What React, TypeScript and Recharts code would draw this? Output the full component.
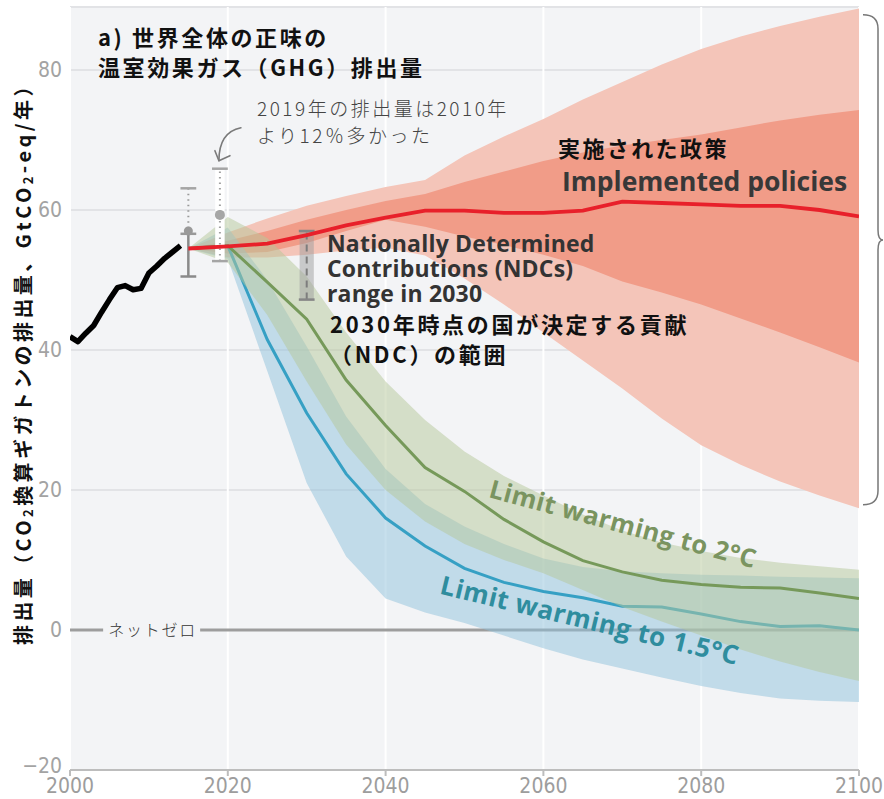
import React from 'react';
import {
  ComposedChart,
  Area,
  Line,
  XAxis,
  YAxis,
  CartesianGrid,
  ReferenceLine,
  ReferenceArea,
  ReferenceDot,
} from 'recharts';

// ---------- data ----------
const histYears = [2000, 2001, 2002, 2003, 2004, 2005, 2006, 2007, 2008, 2009, 2010, 2011, 2012, 2013, 2014];
const histEmissions = [41.9, 41.2, 42.4, 43.5, 45.4, 47.2, 48.9, 49.2, 48.6, 48.8, 51.0, 52.0, 53.1, 54.0, 54.9];

const scenarioYears = [2015, 2020, 2025, 2030, 2035, 2040, 2045, 2050, 2055, 2060, 2065, 2070, 2075, 2080, 2085, 2090, 2095, 2100];

const policyMedian = [54.5, 54.8, 55.2, 56.4, 57.8, 58.9, 59.9, 59.9, 59.6, 59.6, 59.9, 61.2, 61.0, 60.8, 60.6, 60.6, 60.0, 59.1];
const policyHigh95 = [54.5, 56.8, 58.8, 60.6, 62.0, 63.3, 64.3, 67.8, 70.5, 73.0, 75.8, 78.3, 80.8, 83.0, 84.8, 86.3, 87.6, 88.8];
const policyHigh75 = [54.5, 55.6, 57.0, 58.6, 60.0, 61.3, 62.3, 64.0, 65.5, 67.0, 68.2, 69.2, 70.0, 70.8, 71.8, 72.8, 73.6, 74.3];
const policyLow25 = [54.5, 53.8, 54.0, 55.3, 57.0, 58.6, 57.6, 56.2, 55.0, 53.6, 52.0, 49.8, 48.2, 46.5, 44.5, 42.5, 40.4, 38.2];
const policyLow5 = [54.5, 53.2, 53.2, 53.6, 54.2, 54.6, 53.5, 50.2, 46.5, 42.5, 38.5, 34.5, 30.2, 26.4, 23.6, 21.2, 19.2, 17.4];

const twoCMedian = [54.5, 54.9, 49.7, 44.4, 35.7, 29.2, 23.2, 19.8, 15.8, 12.6, 9.9, 8.3, 7.1, 6.5, 6.1, 6.0, 5.3, 4.5];
const twoCHigh = [54.5, 59.0, 56.0, 50.5, 42.5, 35.5, 30.0, 25.5, 22.0, 19.2, 16.5, 14.2, 12.5, 11.3, 10.3, 9.6, 9.1, 8.6];
const twoCLow = [54.5, 52.5, 45.0, 35.5, 26.5, 20.0, 15.5, 12.3, 10.0, 8.1, 5.7, 3.3, 1.2, -0.8, -2.8, -4.5, -6.0, -7.3];

const onePointFiveMedian = [54.5, 54.9, 41.5, 31.0, 22.3, 16.0, 12.0, 8.8, 6.8, 5.5, 4.6, 3.4, 3.3, 2.3, 1.2, 0.5, 0.6, 0.0];
const onePointFiveHigh = [54.5, 57.5, 50.0, 40.5, 30.5, 23.0, 18.0, 14.8, 12.3, 10.2, 9.0, 8.4, 8.1, 7.9, 7.8, 7.6, 7.5, 7.4];
const onePointFiveLow = [54.5, 53.0, 37.0, 21.0, 10.5, 4.5, 2.5, 1.0, -0.8, -2.6, -4.2, -5.5, -6.8, -8.0, -9.0, -9.8, -10.1, -10.3];

// uncertainty bars for 2015 and 2019 emissions
const barYears = [2015, 2019];
const barLow = [50.5, 52.7];
const barHigh = [63.1, 65.9];
const barDot = [57.0, 59.3];
const bar2015SolidTop = 56.6;

// NDC range in 2030
const ndcYear = 2030;
const ndcLow = 47.2;
const ndcHigh = 57.0;

const xTicks = [2000, 2020, 2040, 2060, 2080, 2100];
const yTicks = [-20, 0, 20, 40, 60, 80];

const titleLines = ['a) 世界全体の正味の', '温室効果ガス（GHG）排出量'];
const noteLines = ['2019年の排出量は2010年', 'より12％多かった'];
const policyJa = '実施された政策';
const policyEn = 'Implemented policies';
const ndcEnLines = ['Nationally Determined', 'Contributions (NDCs)', 'range in 2030'];
const ndcJaLines = ['2030年時点の国が決定する貢献', '（NDC）の範囲'];
const twoCLabel = 'Limit warming to 2°C';
const onePointFiveLabel = 'Limit warming to 1.5°C';
const netZeroLabel = 'ネットゼロ';

const table: any[] = [
  ...histYears.map((year, i) => ({ year, hist: histEmissions[i] })),
  ...scenarioYears.map((year, i) => ({
    year,
    policy: policyMedian[i],
    policyOuter: [policyLow5[i], policyHigh95[i]],
    policyInner: [policyLow25[i], policyHigh75[i]],
    twoC: twoCMedian[i],
    twoCRange: [twoCLow[i], twoCHigh[i]],
    onePointFive: onePointFiveMedian[i],
    onePointFiveRange: [onePointFiveLow[i], onePointFiveHigh[i]],
  })),
];

// ---------- styles ----------
const JP = "'Noto Sans CJK JP', 'Noto Sans', sans-serif";
const EN = "'Open Sans', 'Noto Sans', sans-serif";
const NARROW = "'Liberation Sans Narrow', 'DejaVu Sans Condensed', 'Roboto Condensed', sans-serif";
const BG = '#f3f4f6';

type TextSpec = {
  lines: string[];
  lh?: number;
  size: number;
  weight: number;
  fill: string;
  family: string;
  ls?: number;
  angle?: number;
  anchor?: 'start' | 'middle' | 'end';
};

const textShape = (spec: TextSpec) => (p: any) => {
  const { cx, cy } = p;
  return (
    <text
      x={cx}
      y={cy}
      fontSize={spec.size}
      fontWeight={spec.weight}
      fill={spec.fill}
      fontFamily={spec.family}
      letterSpacing={spec.ls ?? 0}
      textAnchor={spec.anchor ?? 'start'}
      transform={spec.angle ? `rotate(${spec.angle} ${cx} ${cy})` : undefined}
    >
      {spec.lines.map((l, i) => (
        <tspan key={i} x={cx} dy={i === 0 ? 0 : spec.lh ?? 0}>
          {l}
        </tspan>
      ))}
    </text>
  );
};

const YTick = (p: any) => {
  const v = p.payload.value;
  const shift = v === yTicks[0] ? -4 : 0;
  return (
    <text
      x={p.x}
      y={p.y + shift}
      dy="0.355em"
      textAnchor="end"
      fill="#a3a3a3"
      fontSize={21}
      fontFamily={NARROW}
    >
      {v < 0 ? `\u2212${-v}` : `${v}`}
    </text>
  );
};

const yLabelShape = (p: any) => {
  const x = p.cx - 48;
  const y = p.cy;
  return (
    <text
      x={x}
      y={y}
      transform={`rotate(-90 ${x} ${y})`}
      textAnchor="middle"
      dominantBaseline="central"
      fontSize={20}
      fontWeight={700}
      fill="#111"
      fontFamily={JP}
      letterSpacing={3.4}
    >
      <tspan>排出量（CO</tspan>
      <tspan fontSize={13} dy={5}>2</tspan>
      <tspan dy={-5}>換算ギガトンの排出量、GtCO</tspan>
      <tspan fontSize={13} dy={5}>2</tspan>
      <tspan dy={-5}>-eq/年）</tspan>
    </text>
  );
};

const netZeroShape = (p: any) => {
  const { cx, cy } = p;
  return (
    <g>
      <rect x={cx} y={cy - 10} width={97} height={20} fill={BG} />
      <text x={cx + 5} y={cy + 6} fontSize={16} fontWeight={300} fill="#333" fontFamily={JP} letterSpacing={1.8}>
        {netZeroLabel}
      </text>
    </g>
  );
};

const arrowShape = (p: any) => {
  const ax = p.cx;
  const ay = p.cy;
  const tx = ax - 1;
  const ty = ay - 8;
  return (
    <g fill="none" stroke="#7a7a7a" strokeWidth={1.6} strokeLinecap="round" strokeLinejoin="round">
      <path d={`M ${ax + 21} ${ay - 41} C ${ax + 6} ${ay - 38} ${ax - 1} ${ay - 26} ${tx} ${ty}`} />
      <path d={`M ${tx - 4} ${ty - 10} L ${tx} ${ty} L ${tx + 11} ${ty - 5}`} />
    </g>
  );
};

const braceShape = (p: any) => {
  const x = p.x1 + 4;
  const top = Math.min(p.y1, p.y2);
  const bot = Math.max(p.y1, p.y2);
  const mid = top + 0.46 * (bot - top);
  const w = 15;
  return (
    <path
      d={`M ${x} ${top} Q ${x + w} ${top} ${x + w} ${top + 14} L ${x + w} ${mid - 10} Q ${x + w} ${mid} ${x + w + 5} ${mid} Q ${x + w} ${mid} ${x + w} ${mid + 10} L ${x + w} ${bot - 14} Q ${x + w} ${bot} ${x} ${bot}`}
      fill="none"
      stroke="#777"
      strokeWidth={1.5}
    />
  );
};

const dotShape = (fill: string) => (p: any) => <circle cx={p.cx} cy={p.cy} r={p.r} fill={fill} />;

export default function App() {
  return (
    <div style={{ position: 'absolute', left: 0, top: 0, width: 884, height: 799, background: '#ffffff' }}>
      <ComposedChart width={884} height={799} data={table} margin={{ top: 7, right: 25, bottom: 0, left: 30 }}>
        <CartesianGrid horizontal vertical={false} stroke="#e2e3e6" strokeWidth={2} fill={BG} />
        <CartesianGrid horizontal={false} vertical stroke="#ffffff" strokeWidth={2} />
        <XAxis
          dataKey="year"
          type="number"
          domain={[2000, 2100]}
          ticks={xTicks}
          allowDataOverflow
          height={29}
          tickSize={6}
          tickMargin={2}
          tick={{ fill: '#9d9d9d', fontSize: 21, fontFamily: NARROW }}
          tickLine={{ stroke: '#bdbdbd', strokeWidth: 2 }}
          axisLine={{ stroke: '#bdbdbd', strokeWidth: 2 }}
        />
        <YAxis
          type="number"
          domain={[-20, 89]}
          ticks={yTicks}
          allowDataOverflow
          width={40}
          tickSize={6}
          tickMargin={2}
          tick={<YTick />}
          tickLine={false}
          axisLine={false}
        />

        <ReferenceLine y={0} stroke="#9d9d9d" strokeWidth={3} zIndex={50} />

        <Area dataKey="policyOuter" stroke="none" fill="#f4c5b9" fillOpacity={1} isAnimationActive={false} dot={false} activeDot={false} zIndex={100} />
        <Area dataKey="policyInner" stroke="none" fill="#f19c88" fillOpacity={1} isAnimationActive={false} dot={false} activeDot={false} zIndex={101} />
        <Area dataKey="onePointFiveRange" stroke="none" fill="#8fc1db" fillOpacity={0.5} isAnimationActive={false} dot={false} activeDot={false} zIndex={102} />
        <Line dataKey="onePointFive" stroke="#36a0c4" strokeWidth={3} dot={false} activeDot={false} isAnimationActive={false} zIndex={103} />
        <Area dataKey="twoCRange" stroke="none" fill="#b5c79a" fillOpacity={0.5} isAnimationActive={false} dot={false} activeDot={false} zIndex={104} />
        <Line dataKey="twoC" stroke="#76995a" strokeWidth={3} dot={false} activeDot={false} isAnimationActive={false} zIndex={105} />

        {/* 2015 uncertainty bar */}
        <ReferenceLine segment={[{ x: barYears[0], y: bar2015SolidTop }, { x: barYears[0], y: barHigh[0] }]} stroke="#9a9a9a" strokeWidth={2} strokeDasharray="1.5 4" zIndex={106} />
        <ReferenceLine segment={[{ x: barYears[0], y: barLow[0] }, { x: barYears[0], y: bar2015SolidTop }]} stroke="#8a8a8a" strokeWidth={2.5} zIndex={106} />
        <ReferenceLine segment={[{ x: barYears[0] - 1, y: barHigh[0] }, { x: barYears[0] + 1, y: barHigh[0] }]} stroke="#a5a5a5" strokeWidth={2.5} zIndex={106} />
        <ReferenceLine segment={[{ x: barYears[0] - 1, y: bar2015SolidTop }, { x: barYears[0] + 1, y: bar2015SolidTop }]} stroke="#999" strokeWidth={2.5} zIndex={106} />
        <ReferenceLine segment={[{ x: barYears[0] - 1, y: barLow[0] }, { x: barYears[0] + 1, y: barLow[0] }]} stroke="#8a8a8a" strokeWidth={2.5} zIndex={106} />
        <ReferenceDot x={barYears[0]} y={barDot[0]} r={4.5} shape={dotShape('#999')} zIndex={107} />

        {/* 2019 uncertainty bar */}
        <ReferenceArea x1={barYears[1] - 0.6} x2={barYears[1] + 0.6} y1={barLow[1]} y2={barHigh[1]} fill="#ffffff" fillOpacity={1} stroke="none" zIndex={106} />
        <ReferenceLine segment={[{ x: barYears[1], y: barLow[1] }, { x: barYears[1], y: barHigh[1] }]} stroke="#a0a0a0" strokeWidth={2} strokeDasharray="1.5 4" zIndex={107} />
        <ReferenceLine segment={[{ x: barYears[1] - 1, y: barHigh[1] }, { x: barYears[1] + 1, y: barHigh[1] }]} stroke="#a5a5a5" strokeWidth={2.5} zIndex={107} />
        <ReferenceLine segment={[{ x: barYears[1] - 1, y: barLow[1] }, { x: barYears[1] + 1, y: barLow[1] }]} stroke="#a5a5a5" strokeWidth={2.5} zIndex={107} />
        <ReferenceDot x={barYears[1]} y={barDot[1]} r={5} shape={dotShape('#a6a6a6')} zIndex={108} />

        {/* NDC range 2030 */}
        <ReferenceArea x1={ndcYear - 0.9} x2={ndcYear + 0.9} y1={ndcLow} y2={ndcHigh} fill="#9e9e9e" fillOpacity={0.5} stroke="none" zIndex={106} />
        <ReferenceLine segment={[{ x: ndcYear, y: ndcLow }, { x: ndcYear, y: ndcHigh }]} stroke="#7d7d7d" strokeWidth={2} strokeDasharray="7 5" zIndex={107} />
        <ReferenceLine segment={[{ x: ndcYear - 1, y: ndcHigh }, { x: ndcYear + 1, y: ndcHigh }]} stroke="#858585" strokeWidth={2.5} zIndex={107} />
        <ReferenceLine segment={[{ x: ndcYear - 1, y: ndcLow }, { x: ndcYear + 1, y: ndcLow }]} stroke="#858585" strokeWidth={2.5} zIndex={107} />

        <Line dataKey="hist" stroke="#000000" strokeWidth={5.5} strokeLinejoin="round" dot={false} activeDot={false} isAnimationActive={false} zIndex={110} />
        <Line dataKey="policy" stroke="#e8202a" strokeWidth={3.8} dot={false} activeDot={false} isAnimationActive={false} zIndex={111} />

        {/* right brace spanning the implemented policies range in 2100 */}
        <ReferenceLine
          segment={[{ x: 2100, y: policyLow5[policyLow5.length - 1] + 0.5 }, { x: 2100, y: policyHigh95[policyHigh95.length - 1] - 0.9 }]}
          ifOverflow="visible"
          shape={braceShape}
          zIndex={120}
        />

        {/* text annotations */}
        <ReferenceDot x={2000} y={38.7} r={0} ifOverflow="visible" shape={yLabelShape} zIndex={3000} />
        <ReferenceDot x={2004.2} y={0} r={0} shape={netZeroShape} zIndex={3000} />
        <ReferenceDot x={barYears[1]} y={barHigh[1]} r={0} shape={arrowShape} zIndex={3000} />
        <ReferenceDot x={2003.55} y={83.4} r={0} shape={textShape({ lines: titleLines, lh: 30, size: 22, weight: 700, fill: '#111', family: JP, ls: 2.6 })} zIndex={3000} />
        <ReferenceDot x={2023.7} y={73.4} r={0} shape={textShape({ lines: noteLines, lh: 27, size: 19, weight: 300, fill: '#444', family: JP, ls: 2.5 })} zIndex={3000} />
        <ReferenceDot x={2061.85} y={67.6} r={0} shape={textShape({ lines: [policyJa], size: 22, weight: 700, fill: '#111', family: JP, ls: 2.4 })} zIndex={3000} />
        <ReferenceDot x={2062.36} y={62.7} r={0} shape={textShape({ lines: [policyEn], size: 26.5, weight: 700, fill: '#383838', family: EN })} zIndex={3000} />
        <ReferenceDot x={2032.57} y={54.05} r={0} shape={textShape({ lines: ndcEnLines, lh: 25, size: 23, weight: 700, fill: '#333', family: EN, ls: 0.2 })} zIndex={3000} />
        <ReferenceDot x={2032.95} y={42.45} r={0} shape={textShape({ lines: ndcJaLines, lh: 30, size: 22, weight: 700, fill: '#111', family: JP, ls: 2.7 })} zIndex={3000} />
        <ReferenceDot x={2069.8} y={13.9} r={0} shape={textShape({ lines: [twoCLabel], size: 25.5, weight: 700, fill: '#7a9460', family: EN, ls: 0.4, angle: 15, anchor: 'middle' })} zIndex={3000} />
        <ReferenceDot x={2065.6} y={0.1} r={0} shape={textShape({ lines: [onePointFiveLabel], size: 26, weight: 700, fill: '#2f8d9e', family: EN, ls: 0.5, angle: 13.5, anchor: 'middle' })} zIndex={3000} />
      </ComposedChart>
    </div>
  );
}
